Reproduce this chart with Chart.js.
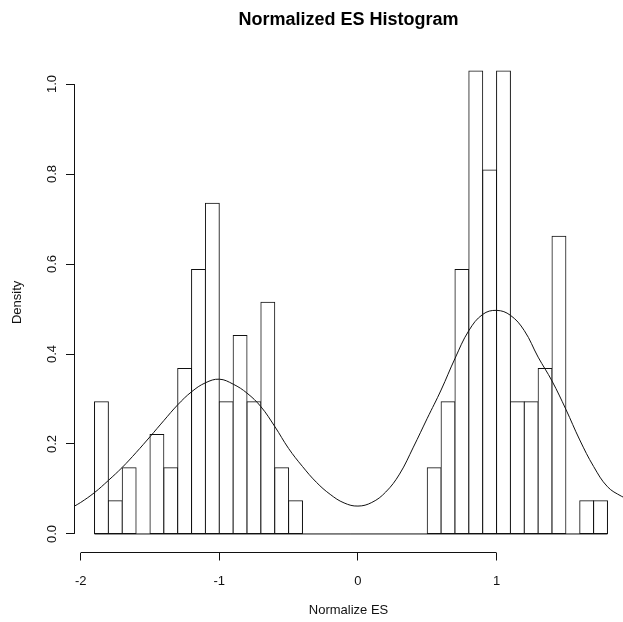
<!DOCTYPE html>
<html>
<head>
<meta charset="utf-8">
<title>Normalized ES Histogram</title>
<script src="https://cdn.jsdelivr.net/npm/chart.js@4.4.1/dist/chart.umd.min.js"></script>
<style>
  html, body { margin: 0; padding: 0; background: #ffffff; }
  #wrap { width: 623px; height: 622px; }
</style>
</head>
<body>
<div id="wrap"><canvas id="chart" width="623" height="622"></canvas></div>
<script>
// Histogram of normalized enrichment scores, bins of width 0.1
const binWidth = 0.1;
const binStarts = [
  -1.9, -1.8, -1.7, -1.6, -1.5, -1.4, -1.3, -1.2, -1.1, -1.0,
  -0.9, -0.8, -0.7, -0.6, -0.5, -0.4, -0.3, -0.2, -0.1, 0.0,
   0.1,  0.2,  0.3,  0.4,  0.5,  0.6,  0.7,  0.8,  0.9, 1.0,
   1.1,  1.2,  1.3,  1.4,  1.5,  1.6,  1.7
];
const binDensity = [
  0.294, 0.074, 0.147, 0.000, 0.221, 0.147, 0.368, 0.588, 0.735, 0.294,
  0.441, 0.294, 0.515, 0.147, 0.074, 0.000, 0.000, 0.000, 0.000, 0.000,
  0.000, 0.000, 0.000, 0.000, 0.147, 0.294, 0.588, 1.029, 0.809, 1.029,
  0.294, 0.294, 0.368, 0.662, 0.000, 0.074, 0.074
];

// Smoothed density curve drawn over the bars
const curveX = [
  -2.05, -2.0, -1.9, -1.8, -1.7, -1.6, -1.5, -1.4, -1.3, -1.2, -1.1, -1.0,
  -0.9, -0.8, -0.7, -0.6, -0.5, -0.4, -0.3, -0.2, -0.1, 0.0,
   0.1,  0.2,  0.3,  0.4,  0.5,  0.6,  0.7,  0.8,  0.9, 1.0,
   1.1,  1.2,  1.3,  1.4,  1.5,  1.6,  1.7,  1.8,  1.9, 1.95
];
const curveY = [
  0.061, 0.070, 0.092, 0.119, 0.148, 0.181, 0.216, 0.252, 0.287, 0.316, 0.336, 0.344,
  0.333, 0.313, 0.283, 0.239, 0.190, 0.150, 0.115, 0.088, 0.069, 0.062,
  0.070, 0.093, 0.133, 0.193, 0.257, 0.320, 0.390, 0.452, 0.488, 0.497,
  0.486, 0.452, 0.393, 0.340, 0.277, 0.209, 0.150, 0.105, 0.084, 0.078
];

// Axis ticks
const xTickValues = [-2, -1, 0, 1];
const xTickLabels = ['-2', '-1', '0', '1'];
const yTickValues = [0, 0.2, 0.4, 0.6, 0.8, 1.0];
const yTickLabels = ['0.0', '0.2', '0.4', '0.6', '0.8', '1.0'];

const FONT = "'Liberation Sans', Arial, Helvetica, sans-serif";
const INK = '#111111';

// Axis lines that run only from the first to the last tick
const axisLines = {
  id: 'axisLines',
  afterDraw(chart) {
    const { ctx, scales: { x, y } } = chart;
    const align = p => Math.round(p - 0.5) + 0.5;
    ctx.save();
    ctx.strokeStyle = INK;
    ctx.lineWidth = 1;
    ctx.beginPath();
    const xy = align(x.top);
    ctx.moveTo(x.getPixelForValue(xTickValues[0]), xy);
    ctx.lineTo(x.getPixelForValue(xTickValues[xTickValues.length - 1]), xy);
    const yx = align(y.right);
    ctx.moveTo(yx, y.getPixelForValue(yTickValues[0]));
    ctx.lineTo(yx, y.getPixelForValue(yTickValues[yTickValues.length - 1]));
    ctx.stroke();
    ctx.restore();
  }
};

const bars = binStarts.map((s, i) => ({ x: s + binWidth / 2, y: binDensity[i] }));
const curve = curveX.map((v, i) => ({ x: v, y: curveY[i] }));
const baseline = [
  { x: binStarts[0], y: 0 },
  { x: binStarts[binStarts.length - 1] + binWidth, y: 0 }
];

new Chart(document.getElementById('chart'), {
  type: 'bar',
  data: {
    datasets: [
      {
        type: 'line',
        data: curve,
        order: 0,
        borderColor: INK,
        borderWidth: 1,
        pointRadius: 0,
        tension: 0.4,
        fill: false
      },
      {
        type: 'line',
        data: baseline,
        order: 1,
        borderColor: INK,
        borderWidth: 1,
        pointRadius: 0,
        fill: false
      },
      {
        type: 'bar',
        data: bars,
        order: 2,
        backgroundColor: '#ffffff',
        borderColor: INK,
        borderWidth: 1,
        borderSkipped: false,
        inflateAmount: 0.5,
        barPercentage: 1,
        categoryPercentage: 1
      }
    ]
  },
  options: {
    responsive: false,
    animation: false,
    devicePixelRatio: 1,
    events: [],
    layout: { padding: 0 },
    plugins: {
      legend: { display: false },
      tooltip: { enabled: false },
      title: {
        display: true,
        fullSize: false,
        text: 'Normalized ES Histogram',
        color: '#000000',
        font: { family: FONT, size: 18, weight: 'bold', lineHeight: 1.2 },
        padding: { top: 9, bottom: 21.7 }
      }
    },
    scales: {
      x: {
        type: 'linear',
        offset: false,
        min: -2.048,
        max: 1.912,
        afterBuildTicks: s => { s.ticks = xTickValues.map(v => ({ value: v })); },
        afterFit: s => { s.height = 69.5; },
        border: { display: false },
        grid: { offset: false, drawOnChartArea: false, drawTicks: true, tickLength: 8, color: INK, lineWidth: 1 },
        ticks: {
          autoSkip: false,
          maxRotation: 0,
          padding: 12.7,
          color: INK,
          font: { family: FONT, size: 13, lineHeight: 1.2 },
          callback: (v, i) => xTickLabels[i]
        },
        title: {
          display: true,
          text: 'Normalize ES',
          color: INK,
          font: { family: FONT, size: 13, lineHeight: 1.2 },
          padding: { top: 0, bottom: 4.2 }
        }
      },
      y: {
        type: 'linear',
        min: -0.0412,
        max: 1.0706,
        afterBuildTicks: s => { s.ticks = yTickValues.map(v => ({ value: v })); },
        afterFit: s => { s.width = 74; },
        border: { display: false },
        grid: { drawOnChartArea: false, drawTicks: true, tickLength: 8, color: INK, lineWidth: 1 },
        ticks: {
          autoSkip: false,
          minRotation: 90,
          maxRotation: 90,
          crossAlign: 'center',
          padding: 5,
          color: INK,
          font: { family: FONT, size: 13, lineHeight: 1.2 },
          callback: (v, i) => yTickLabels[i]
        },
        title: {
          display: true,
          text: 'Density',
          color: INK,
          font: { family: FONT, size: 13, lineHeight: 1.2 },
          padding: { top: 9.5, bottom: 0 }
        }
      }
    }
  },
  plugins: [axisLines]
});
</script>
</body>
</html>
